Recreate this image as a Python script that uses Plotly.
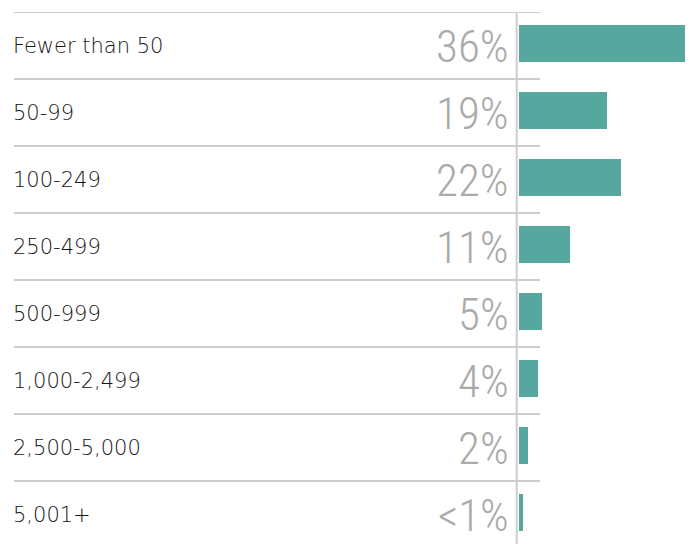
import plotly.graph_objects as go

# Organisation size bands and the share of respondents in each
categories = ["Fewer than 50", "50-99", "100-249", "250-499", "500-999",
              "1,000-2,499", "2,500-5,000", "5,001+"]
shares = [36, 19, 22, 11, 5, 4, 2, 0.9]
share_labels = ["36%", "19%", "22%", "11%", "5%", "4%", "2%", "<1%"]

W, H = 691, 544
BAR_COLOR = "#56A79E"
RULE_COLOR = "#CDCDCD"
PCT_COLOR = "#AAAAAA"

rows = list(range(len(categories)))

fig = go.Figure(
    go.Bar(
        x=shares,
        y=rows,
        orientation="h",
        width=0.55,
        offset=-0.3,
        marker=dict(color=BAR_COLOR, line=dict(width=0)),
        hoverinfo="skip",
    )
)

row_px = 67
top_px = 12
plot_h = H - top_px
visible_rows = plot_h / row_px

shapes = []
# horizontal rules above each row
for i in rows:
    shapes.append(dict(
        type="line", xref="paper", yref="y",
        x0=14 / W, x1=540 / W, y0=i - 0.5, y1=i - 0.5,
        line=dict(color=RULE_COLOR, width=2),
    ))
# vertical rule separating the values from the bars
shapes.append(dict(
    type="line", xref="paper", yref="paper",
    x0=516.7 / W, x1=516.7 / W, y0=0, y1=1 - 13 / H,
    line=dict(color=RULE_COLOR, width=2),
))

annotations = []
for i, (cat, lab) in enumerate(zip(categories, share_labels)):
    annotations.append(dict(
        xref="paper", yref="y", x=11 / W, y=i,
        text=cat, showarrow=False, xanchor="left", yanchor="middle",
        font=dict(family="DejaVu Sans", size=21, color="#151515", weight=200),
    ))
    annotations.append(dict(
        xref="paper", yref="y", x=511 / W, y=i + 0.02,
        text=lab.replace("<", "&lt;"), showarrow=False,
        xanchor="right", yanchor="middle",
        font=dict(family="Roboto Condensed", size=45, color=PCT_COLOR, weight=300),
    ))

fig.update_layout(
    width=W, height=H,
    margin=dict(l=0, r=0, t=0, b=0),
    paper_bgcolor="white", plot_bgcolor="white",
    showlegend=False,
    bargap=0,
    shapes=shapes,
    annotations=annotations,
    xaxis=dict(domain=[518.5 / W, 685 / W], range=[0, 36],
               showgrid=False, zeroline=False, showticklabels=False,
               showline=False, fixedrange=True),
    yaxis=dict(domain=[0, 1 - top_px / H], range=[-0.5 + visible_rows, -0.5],
               showgrid=False, zeroline=False, showticklabels=False,
               showline=False, fixedrange=True),
)

fig.write_html("out.html", config={"displayModeBar": False})
